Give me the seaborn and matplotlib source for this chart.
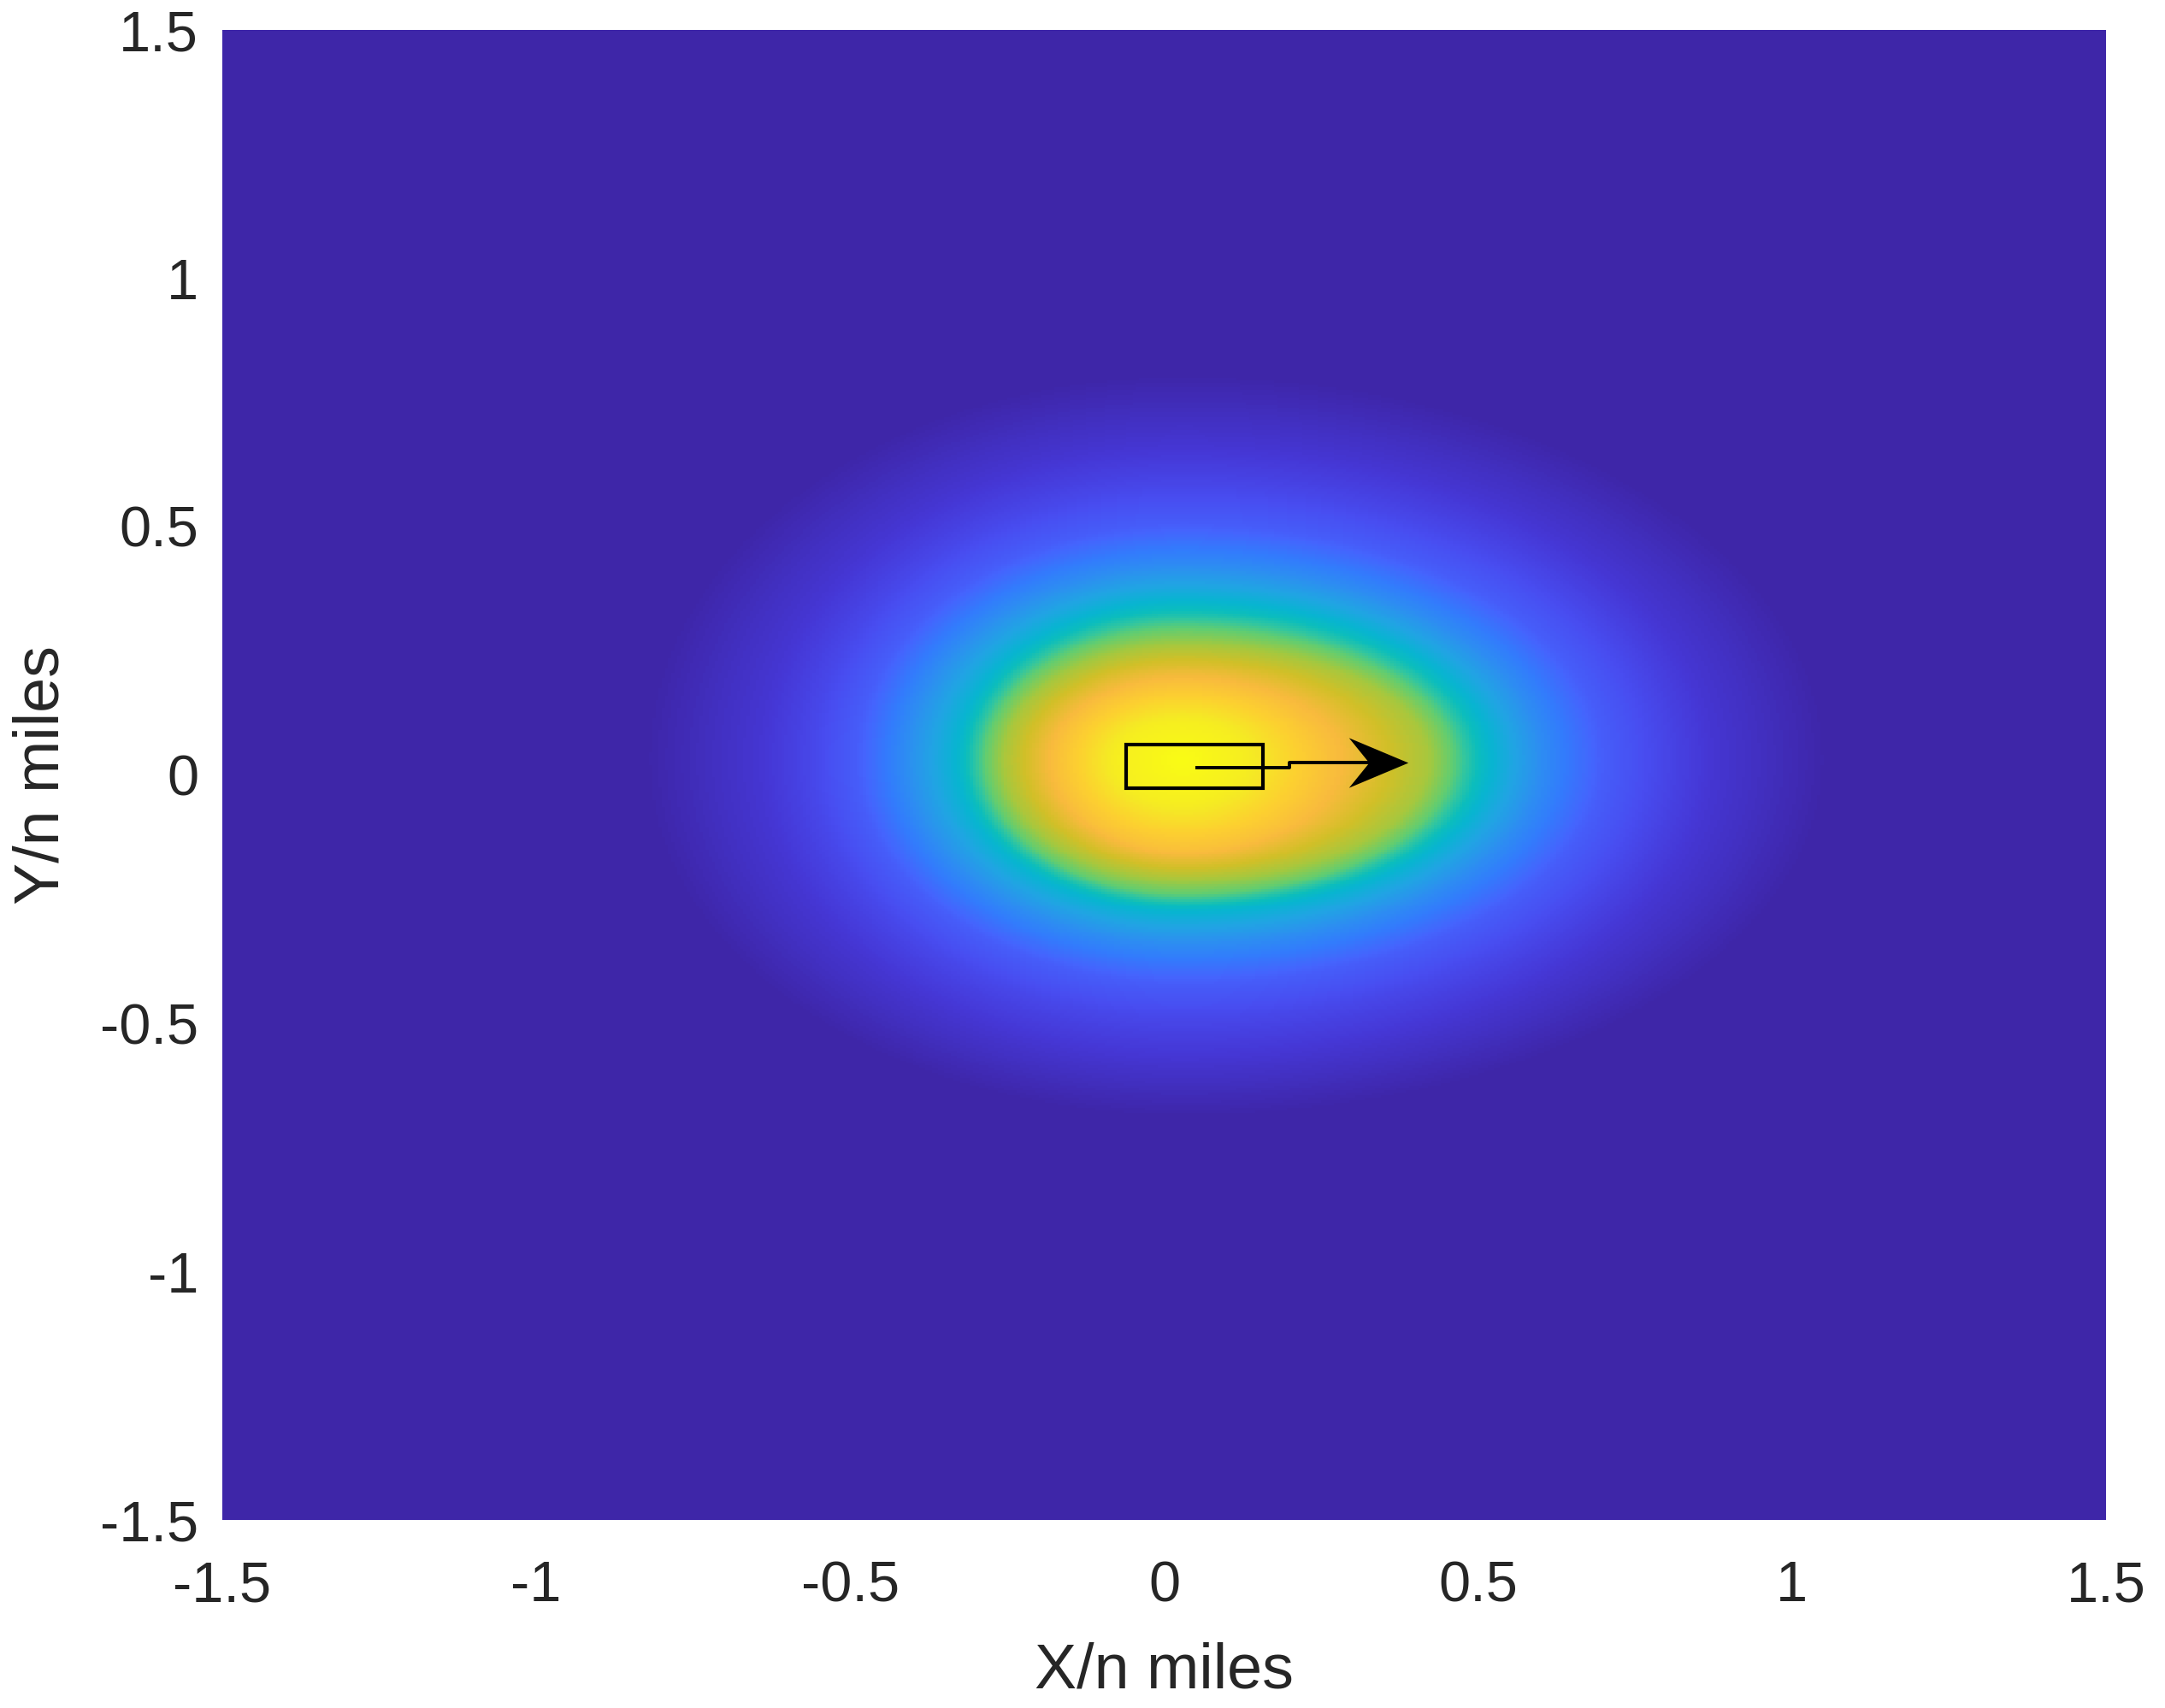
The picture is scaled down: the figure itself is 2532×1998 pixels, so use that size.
import numpy as np
import matplotlib
matplotlib.use("Agg")
import matplotlib.pyplot as plt
import seaborn as sns
from matplotlib.colors import LinearSegmentedColormap
from matplotlib.transforms import Affine2D
from matplotlib.patches import Rectangle
from matplotlib.path import Path

# ---------------- data ----------------
x_ticks = [-1.5, -1.0, -0.5, 0.0, 0.5, 1.0, 1.5]
y_ticks = [-1.5, -1.0, -0.5, 0.0, 0.5, 1.0, 1.5]
x_tick_labels = ["-1.5", "-1", "-0.5", "0", "0.5", "1", "1.5"]
y_tick_labels = ["-1.5", "-1", "-0.5", "0", "0.5", "1", "1.5"]
x_label = "X/n miles"
y_label = "Y/n miles"

# centre of the domain and the level contours (value, distance in each direction)
domain_center = [0.03, 0.03]
contour_levels = [1.00, 0.95, 0.83, 0.70, 0.62, 0.44, 0.30, 0.17, 0.11, 0.06, 0.00]
extent_forward = [0.001, 0.10, 0.23, 0.39, 0.43, 0.49, 0.57, 0.67, 0.76, 0.84, 1.03]
extent_aft = [0.001, 0.11, 0.20, 0.285, 0.315, 0.36, 0.44, 0.52, 0.59, 0.67, 0.86]
extent_port = [0.001, 0.08, 0.155, 0.23, 0.265, 0.32, 0.39, 0.475, 0.55, 0.63, 0.78]
extent_starboard = [0.001, 0.09, 0.18, 0.24, 0.27, 0.305, 0.37, 0.45, 0.52, 0.60, 0.72]

# own ship outline and heading arrow
ship_x = [-0.06, 0.157]
ship_y = [-0.027, 0.061]
heading_x = [0.05, 0.20, 0.20, 0.36]
heading_y = [0.015, 0.015, 0.025, 0.025]
arrow_head = [0.341, 0.025]

# ---------------- parula colormap ----------------
parula_anchors = [
    (0.2422, 0.1504, 0.6603), (0.2706, 0.2147, 0.8364), (0.2813, 0.3006, 0.9414),
    (0.2699, 0.3892, 0.9906), (0.1963, 0.4847, 0.9892), (0.1687, 0.5703, 0.9359),
    (0.1248, 0.6459, 0.8883), (0.0297, 0.7082, 0.8163), (0.0433, 0.7411, 0.7394),
    (0.1938, 0.7758, 0.6251), (0.3909, 0.8029, 0.4354), (0.6174, 0.7876, 0.2612),
    (0.8203, 0.7498, 0.1535), (0.9728, 0.7298, 0.2394), (0.9892, 0.8136, 0.1885),
    (0.9597, 0.9135, 0.1423), (0.9769, 0.9839, 0.0805),
]
parula = LinearSegmentedColormap.from_list("parula", parula_anchors, N=256)

# ---------------- build the field from the contour table ----------------
n = 600
cell = 3.0 / n
xc = -1.5 + (np.arange(n) + 0.5) * cell
yc = 1.5 - (np.arange(n) + 0.5) * cell
X, Y = np.meshgrid(xc, yc)
dx = X - domain_center[0]
dy = Y - domain_center[1]
K = len(contour_levels)
u = []
for k in range(K):
    a = np.where(dx >= 0, extent_forward[k], extent_aft[k])
    b = np.where(dy >= 0, extent_port[k], extent_starboard[k])
    s = np.hypot(dx / a, dy / b)
    u.append(1.0 / (s + 1e-12))
u = np.array(u)
t = np.full(X.shape, float(K - 1))
t[u[0] >= 1] = 0.0
for k in range(1, K):
    m = (u[k - 1] < 1) & (u[k] >= 1)
    t[m] = (k - 1) + (1 - u[k - 1][m]) / (u[k][m] - u[k - 1][m])
field = np.interp(t, np.arange(K), contour_levels)

# ---------------- plot ----------------
sns.set_style("white")
plt.rcParams["font.family"] = ["Liberation Sans", "DejaVu Sans"]
fig = plt.figure(figsize=(25.32, 19.98), dpi=100)
ax = fig.add_axes([260 / 2532, 1 - 1778 / 1998, 2203 / 2532, 1743 / 1998])
sns.heatmap(field, ax=ax, cmap=parula, vmin=0, vmax=1, cbar=False,
            xticklabels=False, yticklabels=False, rasterized=True)

# data -> cell-index transform
to_idx = Affine2D().translate(1.5, -1.5).scale(n / 3.0, -n / 3.0)
trans = to_idx + ax.transData

ax.set_xticks([(v + 1.5) * n / 3.0 for v in x_ticks])
ax.set_xticklabels(x_tick_labels)
ax.set_yticks([(1.5 - v) * n / 3.0 for v in y_ticks])
ax.set_yticklabels(y_tick_labels, rotation=0)
ax.tick_params(axis="both", length=0, labelsize=48, colors="#262626")
ax.tick_params(axis="x", pad=34)
ax.tick_params(axis="y", pad=20)
ax.set_xlabel(x_label, fontsize=53, color="#262626", labelpad=24)
ax.set_ylabel(y_label, fontsize=53, color="#262626", labelpad=24)
for sp in ax.spines.values():
    sp.set_visible(False)

ax.add_patch(Rectangle((ship_x[0], ship_y[0]), ship_x[1] - ship_x[0], ship_y[1] - ship_y[0],
                       transform=trans, fill=False, edgecolor="black", linewidth=3.0))
ax.plot(heading_x, heading_y, color="black", linewidth=2.8, transform=trans,
        solid_capstyle="butt")
head_marker = Path([(0.5, 0.0), (-0.5, 0.42), (-0.16, 0.0), (-0.5, -0.42), (0.5, 0.0)],
                   [Path.MOVETO, Path.LINETO, Path.LINETO, Path.LINETO, Path.CLOSEPOLY])
ax.plot([arrow_head[0]], [arrow_head[1]], marker=head_marker, markersize=50,
        color="black", markeredgewidth=0, linestyle="none", transform=trans)

fig.savefig("out.png", dpi=100)
